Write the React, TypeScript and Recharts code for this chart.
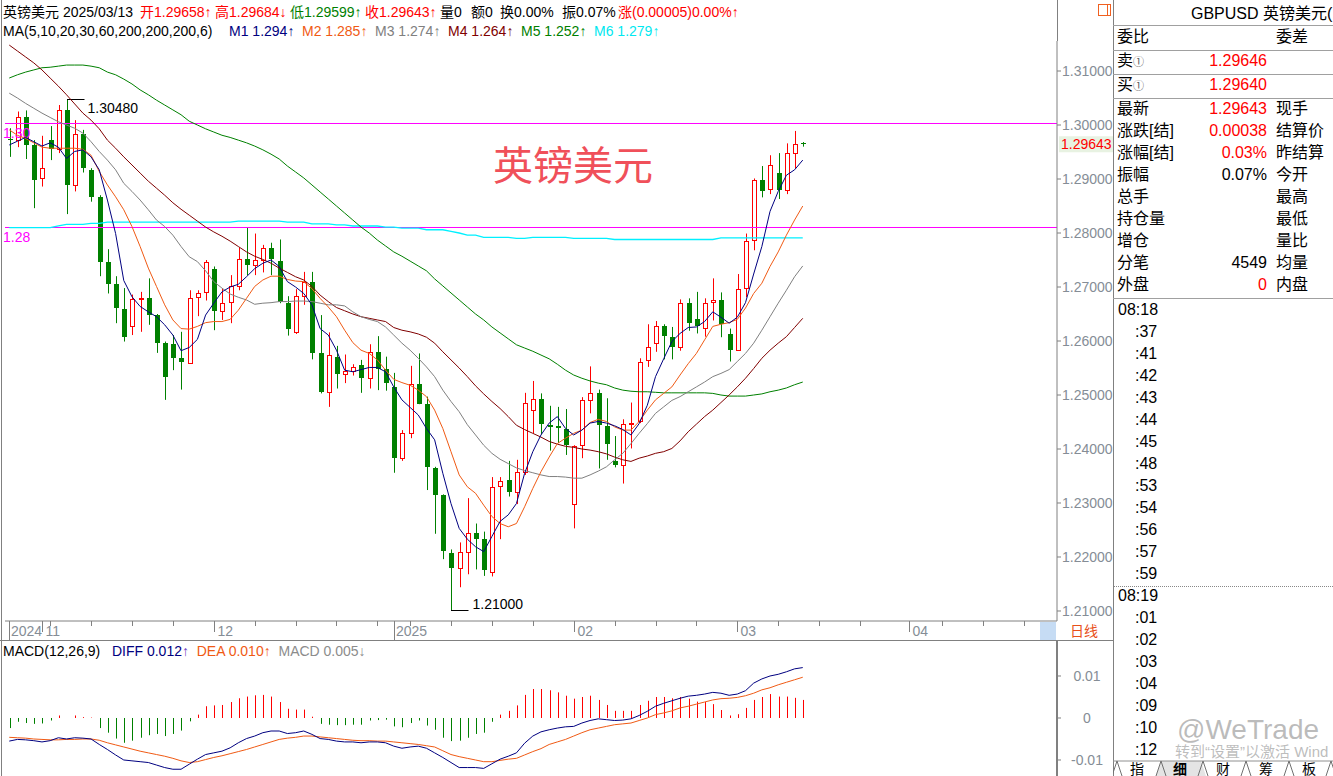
import React from 'react';
import { ComposedChart, Bar, Line, XAxis, YAxis, ReferenceLine } from 'recharts';

const FONT = "'Liberation Sans', Arial, 'Noto Sans CJK SC', sans-serif";
const CJK = "'Noto Sans CJK SC', 'Liberation Sans', sans-serif";
const RED = '#FF0000';
const GREEN = '#008000';
const NAVY = '#000080';
const ORANGE = '#F05A14';
const GRAY = '#808080';
const MAROON = '#800000';
const CYAN = '#00F0FF';
const MAGENTA = '#FF00FF';
const AXIS_TEXT = '#858d96';

// ---------- candle data (2024-10-28 .. 2025-03-13) ----------
const OPEN = [1.2974,1.2973,1.3014,1.2963,1.2901,1.2972,1.2955,1.3028,1.2888,1.2983,
1.2917,1.2867,1.2747,1.2706,1.2659,1.2628,1.2678,1.2679,1.2648,1.2597,
1.2594,1.2568,1.2560,1.2681,1.2690,1.2733,1.2656,1.2673,1.2702,1.2751,
1.2740,1.2750,1.2772,1.2748,1.2670,1.2617,1.2683,1.2709,1.2577,1.2506,
1.2570,1.2538,1.2544,1.2555,1.2531,1.2579,1.2548,1.2515,1.2383,1.2429,
1.2521,1.2483,1.2364,1.2314,1.2207,1.2180,1.2209,1.2245,1.2233,1.2172,
1.2332,1.2342,1.2321,1.2358,1.2473,1.2492,1.2445,1.2442,1.2437,1.2299,
1.2407,1.2491,1.2503,1.2443,1.2377,1.2370,1.2446,1.2451,1.2565,1.2596,
1.2628,1.2607,1.2589,1.2671,1.2640,1.2625,1.2673,1.2676,1.2613,1.2584,
1.2699,1.2787,1.2899,1.2881,1.2912,1.2879,1.2949,1.29658];
const HIGH = [1.2994,1.3025,1.3027,1.2972,1.2980,1.2998,1.3037,1.3048,1.3009,1.2991,
1.2920,1.2870,1.2770,1.2720,1.2698,1.2686,1.2691,1.2716,1.2650,1.2599,
1.2611,1.2617,1.2694,1.2694,1.2750,1.2738,1.2698,1.2722,1.2773,1.2810,
1.2799,1.2778,1.2782,1.2788,1.2683,1.2696,1.2728,1.2728,1.2648,1.2616,
1.2591,1.2575,1.2557,1.2565,1.2594,1.2609,1.2571,1.2541,1.2435,1.2554,
1.2577,1.2497,1.2367,1.2316,1.2214,1.2227,1.2309,1.2262,1.2247,1.2348,
1.2348,1.2378,1.2380,1.2504,1.2526,1.2503,1.2480,1.2478,1.2474,1.2407,
1.2496,1.2553,1.2510,1.2494,1.2424,1.2455,1.2486,1.2568,1.2631,1.2637,
1.2631,1.2626,1.2677,1.2679,1.2691,1.2679,1.2716,1.2690,1.2623,1.2724,
1.2799,1.2901,1.2924,1.2944,1.2948,1.2966,1.2989,1.29684];
const LOW = [1.2941,1.2959,1.2937,1.2846,1.2886,1.2935,1.2948,1.2835,1.2877,1.2912,
1.2858,1.2720,1.2688,1.2633,1.2599,1.2611,1.2617,1.2630,1.2578,1.2491,
1.2546,1.2510,1.2560,1.2646,1.2675,1.2620,1.2639,1.2633,1.2694,1.2722,
1.2722,1.2727,1.2722,1.2670,1.2610,1.2613,1.2667,1.2566,1.2503,1.2478,
1.2512,1.2522,1.2536,1.2504,1.2512,1.2509,1.2508,1.2356,1.2378,1.2420,
1.2483,1.2324,1.2243,1.2196,1.2100,1.2144,1.2168,1.2177,1.2165,1.2164,
1.2233,1.2312,1.2298,1.2352,1.2429,1.2427,1.2397,1.2411,1.2389,1.2253,
1.2383,1.2466,1.2364,1.2380,1.2366,1.2336,1.2401,1.2448,1.2552,1.2580,
1.2566,1.2566,1.2582,1.2619,1.2614,1.2608,1.2638,1.2607,1.2562,1.2584,
1.2681,1.2768,1.2866,1.2872,1.2863,1.2872,1.2919,1.29599];
const CLOSE = [1.2972,1.3015,1.2963,1.2899,1.2920,1.2955,1.3027,1.2889,1.2983,1.2921,
1.2867,1.2747,1.2706,1.2661,1.2608,1.2677,1.2679,1.2648,1.2597,1.2534,
1.2569,1.2562,1.2679,1.2688,1.2746,1.2656,1.2671,1.2702,1.2751,1.2741,
1.2750,1.2772,1.2751,1.2673,1.2622,1.2684,1.2710,1.2578,1.2506,1.2575,
1.2538,1.2544,1.2552,1.2531,1.2580,1.2549,1.2523,1.2383,1.2429,1.2520,
1.2484,1.2366,1.2314,1.2212,1.2180,1.2209,1.2245,1.2233,1.2175,1.2330,
1.2341,1.2321,1.2357,1.2486,1.2492,1.2446,1.2441,1.2438,1.2408,1.2406,
1.2490,1.2504,1.2444,1.2410,1.2370,1.2446,1.2448,1.2562,1.2588,1.2628,
1.2609,1.2589,1.2671,1.2633,1.2627,1.2671,1.2676,1.2631,1.2583,1.2697,
1.2785,1.2899,1.2878,1.2926,1.2880,1.2949,1.2965,1.29643];

// ---------- moving averages ----------
const MA5 = [1.2963,1.2970,1.2977,1.2969,1.2961,1.2967,1.2959,1.2938,1.2951,1.2954,
1.2941,1.2917,1.2861,1.2799,1.2712,1.2682,1.2664,1.2654,1.2645,1.2630,
1.2611,1.2582,1.2588,1.2603,1.2648,1.2670,1.2691,1.2700,1.2705,1.2719,
1.2734,1.2744,1.2750,1.2738,1.2710,1.2700,1.2688,1.2667,1.2623,1.2611,
1.2583,1.2546,1.2543,1.2547,1.2551,1.2551,1.2543,1.2515,1.2491,1.2477,
1.2463,1.2438,1.2417,1.2355,1.2299,1.2253,1.2233,1.2219,1.2210,1.2238,
1.2266,1.2278,1.2299,1.2355,1.2395,1.2426,1.2448,1.2460,1.2438,1.2426,
1.2435,1.2448,1.2451,1.2448,1.2443,1.2436,1.2426,1.2447,1.2481,1.2534,
1.2567,1.2599,1.2614,1.2625,1.2626,1.2636,1.2654,1.2644,1.2633,1.2644,
1.2671,1.2724,1.2775,1.2840,1.2877,1.2907,1.2917,1.2935];
const MA10 = [1.2991,1.2981,1.2975,1.2967,1.2959,1.2957,1.2957,1.2957,1.2957,1.2955,
1.2944,1.2914,1.2889,1.2867,1.2843,1.2812,1.2775,1.2735,1.2701,1.2667,
1.2639,1.2623,1.2622,1.2627,1.2634,1.2636,1.2636,1.2640,1.2657,1.2679,
1.2701,1.2713,1.2720,1.2720,1.2714,1.2711,1.2710,1.2697,1.2679,1.2663,
1.2645,1.2620,1.2597,1.2583,1.2577,1.2565,1.2546,1.2529,1.2523,1.2518,
1.2509,1.2497,1.2472,1.2438,1.2395,1.2352,1.2330,1.2318,1.2296,1.2275,
1.2262,1.2256,1.2262,1.2293,1.2327,1.2358,1.2385,1.2410,1.2420,1.2429,
1.2435,1.2449,1.2455,1.2451,1.2441,1.2435,1.2435,1.2451,1.2472,1.2491,
1.2503,1.2515,1.2537,1.2558,1.2577,1.2602,1.2627,1.2631,1.2634,1.2640,
1.2661,1.2688,1.2707,1.2738,1.2765,1.2796,1.2824,1.2850];
const MA20 = [1.3059,1.3050,1.3040,1.3031,1.3022,1.3014,1.3006,1.3000,1.2994,1.2985,
1.2969,1.2951,1.2935,1.2917,1.2892,1.2877,1.2861,1.2843,1.2824,1.2812,
1.2796,1.2775,1.2756,1.2747,1.2730,1.2710,1.2698,1.2687,1.2681,1.2676,
1.2668,1.2670,1.2671,1.2673,1.2673,1.2674,1.2674,1.2673,1.2670,1.2667,
1.2667,1.2665,1.2654,1.2645,1.2640,1.2636,1.2626,1.2611,1.2596,1.2583,
1.2568,1.2552,1.2534,1.2509,1.2488,1.2469,1.2445,1.2426,1.2407,1.2392,
1.2381,1.2373,1.2365,1.2360,1.2356,1.2352,1.2349,1.2349,1.2348,1.2346,
1.2346,1.2352,1.2359,1.2367,1.2380,1.2392,1.2410,1.2429,1.2447,1.2466,
1.2478,1.2490,1.2497,1.2506,1.2515,1.2524,1.2534,1.2540,1.2547,1.2562,
1.2577,1.2596,1.2620,1.2645,1.2670,1.2694,1.2719,1.2739];
const MA30 = [1.3148,1.3137,1.3126,1.3115,1.3102,1.3087,1.3072,1.3056,1.3039,1.3022,
1.3009,1.2993,1.2972,1.2957,1.2941,1.2926,1.2911,1.2896,1.2883,1.2870,
1.2856,1.2844,1.2833,1.2822,1.2811,1.2802,1.2794,1.2785,1.2775,1.2765,
1.2757,1.2751,1.2744,1.2735,1.2727,1.2719,1.2713,1.2701,1.2685,1.2673,
1.2662,1.2656,1.2650,1.2645,1.2642,1.2639,1.2636,1.2625,1.2620,1.2617,
1.2613,1.2607,1.2596,1.2580,1.2565,1.2550,1.2534,1.2517,1.2502,1.2488,
1.2475,1.2460,1.2444,1.2436,1.2429,1.2422,1.2414,1.2409,1.2405,1.2403,
1.2400,1.2398,1.2395,1.2391,1.2385,1.2380,1.2377,1.2383,1.2387,1.2392,
1.2395,1.2401,1.2415,1.2432,1.2446,1.2460,1.2472,1.2486,1.2500,1.2515,
1.2531,1.2549,1.2568,1.2583,1.2596,1.2608,1.2625,1.2642];
const MA60 = [1.3087,1.3093,1.3098,1.3102,1.3106,1.3107,1.3109,1.3111,1.3111,1.3111,
1.3109,1.3106,1.3098,1.3093,1.3085,1.3076,1.3065,1.3056,1.3046,1.3037,
1.3028,1.3019,1.3007,1.3000,1.2993,1.2987,1.2981,1.2977,1.2972,1.2967,
1.2961,1.2954,1.2946,1.2937,1.2924,1.2913,1.2902,1.2889,1.2876,1.2863,
1.2850,1.2837,1.2824,1.2811,1.2800,1.2787,1.2776,1.2765,1.2757,1.2748,
1.2739,1.2730,1.2715,1.2702,1.2689,1.2676,1.2663,1.2650,1.2639,1.2626,
1.2615,1.2604,1.2593,1.2587,1.2581,1.2574,1.2567,1.2557,1.2546,1.2537,
1.2531,1.2526,1.2522,1.2519,1.2513,1.2509,1.2507,1.2506,1.2506,1.2505,
1.2504,1.2504,1.2504,1.2504,1.2504,1.2504,1.2503,1.2500,1.2498,1.2498,
1.2498,1.2500,1.2502,1.2506,1.2509,1.2513,1.2519,1.2524];
const MA200 = [1.2810,1.2810,1.2810,1.2810,1.2810,1.2810,1.2813,1.2816,1.2816,1.2816,
1.2818,1.2818,1.2820,1.2820,1.2820,1.2820,1.2820,1.2820,1.2820,1.2820,
1.2820,1.2820,1.2820,1.2820,1.2820,1.2820,1.2820,1.2820,1.2822,1.2822,
1.2822,1.2822,1.2822,1.2822,1.2820,1.2820,1.2820,1.2817,1.2817,1.2817,
1.2815,1.2815,1.2813,1.2813,1.2813,1.2813,1.2811,1.2811,1.2809,1.2809,
1.2809,1.2806,1.2806,1.2806,1.2803,1.2800,1.2796,1.2796,1.2792,1.2792,
1.2792,1.2792,1.2790,1.2790,1.2792,1.2792,1.2792,1.2792,1.2792,1.2790,
1.2790,1.2790,1.2790,1.2790,1.2788,1.2788,1.2788,1.2788,1.2788,1.2788,
1.2788,1.2788,1.2788,1.2788,1.2788,1.2788,1.2788,1.2791,1.2791,1.2791,
1.2791,1.2791,1.2791,1.2791,1.2791,1.2791,1.2791,1.2791];

// ---------- MACD(12,26,9) ----------
const DIFF = [-0.0055,-0.0051,-0.0052,-0.0054,-0.0057,-0.0054,-0.0047,-0.0050,-0.0047,-0.0048,
-0.0050,-0.0063,-0.0075,-0.0088,-0.0100,-0.0102,-0.0104,-0.0106,-0.0112,-0.0118,
-0.0122,-0.0122,-0.0110,-0.0098,-0.0087,-0.0083,-0.0079,-0.0071,-0.0059,-0.0049,
-0.0043,-0.0035,-0.0031,-0.0031,-0.0037,-0.0035,-0.0031,-0.0039,-0.0049,-0.0051,
-0.0055,-0.0057,-0.0057,-0.0059,-0.0057,-0.0057,-0.0059,-0.0067,-0.0072,-0.0069,
-0.0067,-0.0072,-0.0083,-0.0094,-0.0106,-0.0118,-0.0118,-0.0118,-0.0120,-0.0109,
-0.0098,-0.0091,-0.0083,-0.0060,-0.0043,-0.0033,-0.0028,-0.0024,-0.0021,-0.0020,
-0.0012,-0.0006,-0.0002,-0.0004,-0.0006,-0.0005,-0.0002,0.0006,0.0016,0.0028,
0.0035,0.0041,0.0047,0.0052,0.0054,0.0057,0.0061,0.0059,0.0054,0.0057,
0.0065,0.0083,0.0093,0.0100,0.0104,0.0110,0.0117,0.0120];
const DEA = [-0.0046,-0.0047,-0.0048,-0.0050,-0.0051,-0.0052,-0.0052,-0.0051,-0.0051,-0.0050,
-0.0050,-0.0053,-0.0059,-0.0064,-0.0069,-0.0074,-0.0079,-0.0083,-0.0087,-0.0091,
-0.0096,-0.0102,-0.0106,-0.0104,-0.0099,-0.0094,-0.0090,-0.0085,-0.0080,-0.0075,
-0.0069,-0.0063,-0.0057,-0.0051,-0.0048,-0.0046,-0.0043,-0.0043,-0.0045,-0.0047,
-0.0049,-0.0051,-0.0053,-0.0054,-0.0054,-0.0055,-0.0055,-0.0057,-0.0059,-0.0061,
-0.0063,-0.0066,-0.0069,-0.0078,-0.0087,-0.0092,-0.0096,-0.0100,-0.0104,-0.0104,
-0.0101,-0.0098,-0.0096,-0.0088,-0.0080,-0.0073,-0.0063,-0.0057,-0.0051,-0.0043,
-0.0035,-0.0028,-0.0024,-0.0020,-0.0016,-0.0014,-0.0012,-0.0006,0.0000,0.0008,
0.0012,0.0017,0.0024,0.0028,0.0033,0.0038,0.0043,0.0046,0.0047,0.0049,
0.0053,0.0059,0.0067,0.0072,0.0079,0.0085,0.0091,0.0097];
const HIST = [-0.0024,-0.0009,-0.0012,-0.0014,-0.0013,-0.0006,0.0006,0.0000,0.0006,0.0002,
0.0001,-0.0024,-0.0035,-0.0049,-0.0059,-0.0054,-0.0047,-0.0041,-0.0038,-0.0043,
-0.0038,-0.0030,-0.0008,0.0008,0.0028,0.0030,0.0031,0.0038,0.0047,0.0051,
0.0054,0.0055,0.0051,0.0038,0.0022,0.0020,0.0020,0.0003,-0.0014,-0.0016,
-0.0017,-0.0017,-0.0016,-0.0016,-0.0006,-0.0005,-0.0004,-0.0020,-0.0022,-0.0012,
-0.0006,-0.0018,-0.0028,-0.0047,-0.0055,-0.0054,-0.0047,-0.0038,-0.0035,-0.0009,
0.0008,0.0017,0.0030,0.0055,0.0069,0.0069,0.0066,0.0061,0.0053,0.0046,
0.0050,0.0053,0.0043,0.0031,0.0017,0.0017,0.0017,0.0031,0.0041,0.0050,
0.0050,0.0047,0.0050,0.0046,0.0039,0.0038,0.0033,0.0019,0.0006,0.0009,
0.0024,0.0043,0.0050,0.0057,0.0051,0.0051,0.0048,0.0043];

// ---------- axes / labels ----------
const SLOTS = 129;
const PRICE_TICKS = [1.21, 1.22, 1.23, 1.24, 1.25, 1.26, 1.27, 1.28, 1.29, 1.30, 1.31];
const MACD_TICKS = [-0.01, 0, 0.01];
const MACD_TICK_LABELS: Record<string, string> = { '-0.01': '-0.01', '0': '0', '0.01': '0.01' };
const YEAR_LABELS: Record<number, string> = { 0: '2024', 47: '2025' };
const MONTH_LABELS: Record<number, string> = { 4: '11', 25: '12', 69: '02', 89: '03', 110: '04' };
const WEEK_TICKS = [5, 10, 15, 20, 30, 35, 40, 45, 49, 54, 59, 64, 74, 79, 84, 94, 99, 104, 114, 119, 124];
const X_TICKS = [...Object.keys(YEAR_LABELS).map(Number), ...Object.keys(MONTH_LABELS).map(Number), ...WEEK_TICKS].sort((a, b) => a - b);
const H_LINES = [{ v: 1.30028, label: '1.30' }, { v: 1.28102, label: '1.28' }];
const LAST_PRICE = 1.29643;

const HEADER_ITEMS = [
  { t: '英镑美元 2025/03/13', c: '#000', x: 3 },
  { t: '开1.29658↑', c: RED, x: 140 },
  { t: '高1.29684↓', c: RED, x: 215 },
  { t: '低1.29599↑', c: GREEN, x: 290 },
  { t: '收1.29643↑', c: RED, x: 365 },
  { t: '量0', c: '#000', x: 440 },
  { t: '额0', c: '#000', x: 471 },
  { t: '换0.00%', c: '#000', x: 500 },
  { t: '振0.07%', c: '#000', x: 562 },
  { t: '涨(0.00005)0.00%↑', c: RED, x: 618 },
];
const MA_LEGEND = [
  { n: 'M1', v: '1.294↑', c: NAVY, x: 229 },
  { n: 'M2', v: '1.285↑', c: ORANGE, x: 302 },
  { n: 'M3', v: '1.274↑', c: GRAY, x: 375 },
  { n: 'M4', v: '1.264↑', c: MAROON, x: 448 },
  { n: 'M5', v: '1.252↑', c: GREEN, x: 521 },
  { n: 'M6', v: '1.279↑', c: '#00E8F0', x: 594 },
];
const PANEL_ROWS = [
  { l: '最新', v: '1.29643', vc: RED, r: '现手' },
  { l: '涨跌[结]', v: '0.00038', vc: RED, r: '结算价' },
  { l: '涨幅[结]', v: '0.03%', vc: RED, r: '昨结算' },
  { l: '振幅', v: '0.07%', vc: '#000', r: '今开' },
  { l: '总手', v: '', vc: '#000', r: '最高' },
  { l: '持仓量', v: '', vc: '#000', r: '最低' },
  { l: '增仓', v: '', vc: '#000', r: '量比' },
  { l: '分笔', v: '4549', vc: '#000', r: '均量' },
  { l: '外盘', v: '0', vc: RED, r: '内盘' },
];
const TICKS_LIST_A = ['08:18', ':37', ':41', ':42', ':43', ':44', ':45', ':48', ':53', ':54', ':56', ':57', ':59'];
const TICKS_LIST_B = ['08:19', ':01', ':02', ':03', ':04', ':09', ':10', ':12'];
const TABS = ['指', '细', '财', '筹', '板'];

const rows: any[] = [];
for (let i = 0; i < SLOTS; i++) {
  if (i < OPEN.length) {
    rows.push({
      i, o: OPEN[i], h: HIGH[i], l: LOW[i], c: CLOSE[i],
      ma5: MA5[i], ma10: MA10[i], ma20: MA20[i], ma30: MA30[i], ma60: MA60[i], ma200: MA200[i],
      diff: DIFF[i], dea: DEA[i], hist: HIST[i],
    });
  } else {
    rows.push({ i });
  }
}
const HIGH_IDX = HIGH.indexOf(Math.max(...HIGH));
const LOW_IDX = LOW.indexOf(Math.min(...LOW));

const X_DOMAIN: [number, number] = [-0.52, 128.08];

function Candle(props: any) {
  const { x, y, width, height, payload } = props;
  if (!payload || payload.o == null) return null;
  const { o, h, l, c, i } = payload;
  const toY = (v: number) => (h === l ? y : y + ((h - v) / (h - l)) * height);
  const cx = Math.round(x + width / 2) + 0.5;
  const yH = toY(h);
  const yL = toY(l);
  const top = Math.round(Math.min(toY(o), toY(c)));
  const bot = Math.round(Math.max(toY(o), toY(c)));
  const up = c > o;
  const col = up ? RED : GREEN;
  const parts: any[] = [];
  if (up) {
    const bh = Math.max(1, bot - top);
    parts.push(<line key="w1" x1={cx} x2={cx} y1={yH} y2={top + 0.5} stroke={col} />);
    parts.push(<line key="w2" x1={cx} x2={cx} y1={top + 0.5 + bh} y2={yL} stroke={col} />);
    parts.push(<rect key="b" x={cx - 2} y={top + 0.5} width={4} height={bh} fill="#fff" stroke={col} />);
  } else {
    parts.push(<line key="w" x1={cx} x2={cx} y1={yH} y2={yL} stroke={col} />);
    parts.push(<rect key="b" x={cx - 2.5} y={top} width={5} height={Math.max(1, bot - top)} fill={col} />);
  }
  if (i === HIGH_IDX) {
    const yy = Math.round(yH) + 0.5;
    parts.push(<line key="hm" x1={cx - 0.5} x2={cx + 17} y1={yy} y2={yy} stroke="#000" />);
    parts.push(<text key="ht" x={cx + 20} y={yy + 13} fontSize={14} fill="#000" fontFamily={FONT}>{h.toFixed(5)}</text>);
  }
  if (i === LOW_IDX) {
    const yy = Math.round(yL) - 0.5;
    parts.push(<line key="lm" x1={cx - 0.5} x2={cx + 17} y1={yy} y2={yy} stroke="#000" />);
    parts.push(<text key="lt" x={cx + 21} y={yy - 2} fontSize={14} fill="#000" fontFamily={FONT}>{l.toFixed(5)}</text>);
  }
  return <g>{parts}</g>;
}

function HistBar(props: any) {
  const { x, y, width, height, payload } = props;
  if (!payload || payload.hist == null || !height) return null;
  const X = Math.round(x + width / 2) + 0.5;
  const col = payload.hist >= 0 ? RED : GREEN;
  return <line x1={X} x2={X} y1={y} y2={y + height} stroke={col} strokeWidth={1} />;
}

function XTick(props: any) {
  const { x, y, payload } = props;
  const v = payload.value;
  const X = Math.round(x) + 0.5;
  if (YEAR_LABELS[v] !== undefined) {
    return (
      <g>
        <line x1={X} x2={X} y1={y} y2={y + 19} stroke={GRAY} />
        <text x={X + 1.5} y={y + 15} fontSize={14} fill={AXIS_TEXT} fontFamily={FONT}>{YEAR_LABELS[v]}</text>
      </g>
    );
  }
  if (MONTH_LABELS[v] !== undefined) {
    return (
      <g>
        <line x1={X} x2={X} y1={y} y2={y + 11} stroke={GRAY} />
        <text x={X + 3} y={y + 15} fontSize={14} fill={AXIS_TEXT} fontFamily={FONT}>{MONTH_LABELS[v]}</text>
      </g>
    );
  }
  return <line x1={X} x2={X} y1={y} y2={y + 5} stroke={GRAY} />;
}

function MacdTick(props: any) {
  const { x, y, payload } = props;
  const key = String(payload.value);
  return (
    <text x={x + 26} y={y + 5} fontSize={14} fill={AXIS_TEXT} textAnchor="middle" fontFamily={FONT}>
      {MACD_TICK_LABELS[key] ?? key}
    </text>
  );
}

const magLabel = (text: string) => (p: any) => {
  const vb = p.viewBox || {};
  return (
    <text x={3} y={(vb.y ?? 0) + 15} fontSize={14} fill={MAGENTA} fontFamily={FONT}>{text}</text>
  );
};

const lastPriceLabel = (p: any) => {
  const vb = p.viewBox || {};
  const yy = vb.y ?? 0;
  const xx = (vb.x ?? 0) + (vb.width ?? 0);
  return (
    <g>
      <rect x={xx + 2} y={yy - 8} width={54} height={16} fill="#E8F2E2" />
      <text x={xx + 4} y={yy + 5} fontSize={14} fill={RED} fontFamily={FONT}>{LAST_PRICE.toFixed(5)}</text>
    </g>
  );
};

function Txt(props: any) {
  const { x, y, children, color = '#000', size = 16, right, family = FONT, weight = 'normal' } = props;
  const style: any = {
    position: 'absolute', top: y - 10, lineHeight: '20px', fontSize: size, color,
    whiteSpace: 'pre', fontFamily: family, fontWeight: weight,
  };
  if (right !== undefined) style.right = 1333 - right; else style.left = x;
  return <div style={style}>{children}</div>;
}

function Rule(props: any) {
  const { x, y, w, h, color = '#a0a0a0', dotted } = props;
  return (
    <div style={{
      position: 'absolute', left: x, top: y, width: w, height: h,
      background: dotted ? undefined : color,
      borderTop: dotted ? `1px dotted ${color}` : undefined,
    }} />
  );
}

export default function App() {
  return (
    <div style={{ position: 'absolute', left: 0, top: 0, width: 1333, height: 776, overflow: 'hidden', background: '#fff', fontFamily: FONT }}>
      {/* main price chart */}
      <div style={{ position: 'absolute', left: 0, top: 0 }}>
        <ComposedChart width={1113} height={640} data={rows} margin={{ top: 41, right: 0, bottom: 0, left: 5 }}>
          <XAxis
            dataKey="i" type="number" domain={X_DOMAIN} allowDataOverflow ticks={X_TICKS} interval={0}
            height={19} tickLine={false} tickSize={0} tickMargin={0} axisLine={{ stroke: GRAY }} tick={<XTick />}
          />
          <YAxis
            orientation="right" width={56} domain={[1.208148, 1.315556]} allowDataOverflow ticks={PRICE_TICKS} interval={0}
            tickFormatter={(v: number) => v.toFixed(5)} tickSize={4} tickMargin={1}
            tick={{ fill: AXIS_TEXT, fontSize: 14, fontFamily: FONT }} axisLine={{ stroke: GRAY }} tickLine={{ stroke: GRAY }}
          />
          {H_LINES.map((hl) => (
            <ReferenceLine key={hl.label} y={hl.v} stroke={MAGENTA} strokeWidth={1} label={magLabel(hl.label)} />
          ))}
          <ReferenceLine y={LAST_PRICE} stroke="transparent" label={lastPriceLabel} />
          <Bar dataKey={(d: any) => (d.o == null ? null : [d.l, d.h])} barSize={5} shape={<Candle />} isAnimationActive={false} />
          <Line dataKey="ma200" stroke={CYAN} strokeWidth={1.3} dot={false} activeDot={false} isAnimationActive={false} />
          <Line dataKey="ma60" stroke={GREEN} strokeWidth={1} dot={false} activeDot={false} isAnimationActive={false} />
          <Line dataKey="ma30" stroke={MAROON} strokeWidth={1} dot={false} activeDot={false} isAnimationActive={false} />
          <Line dataKey="ma20" stroke={GRAY} strokeWidth={1} dot={false} activeDot={false} isAnimationActive={false} />
          <Line dataKey="ma10" stroke={ORANGE} strokeWidth={1} dot={false} activeDot={false} isAnimationActive={false} />
          <Line dataKey="ma5" stroke={NAVY} strokeWidth={1} dot={false} activeDot={false} isAnimationActive={false} />
        </ComposedChart>
      </div>

      {/* MACD panel */}
      <div style={{ position: 'absolute', left: 0, top: 641 }}>
        <ComposedChart width={1113} height={135} data={rows} margin={{ top: 0, right: 0, bottom: 0, left: 5 }}>
          <XAxis dataKey="i" type="number" domain={X_DOMAIN} allowDataOverflow hide />
          <YAxis
            orientation="right" width={56} domain={[-0.01381, 0.01833]} allowDataOverflow ticks={MACD_TICKS} interval={0}
            tickSize={4} tickMargin={0} tick={<MacdTick />} axisLine={{ stroke: GRAY, strokeWidth: 2 }} tickLine={{ stroke: GRAY }}
          />
          <Bar dataKey="hist" barSize={1} shape={<HistBar />} isAnimationActive={false} />
          <Line dataKey="dea" stroke={ORANGE} strokeWidth={1} dot={false} activeDot={false} isAnimationActive={false} />
          <Line dataKey="diff" stroke={NAVY} strokeWidth={1} dot={false} activeDot={false} isAnimationActive={false} />
        </ComposedChart>
      </div>

      {/* frame lines */}
      <Rule x={1} y={0} w={1} h={776} color={GRAY} />
      <Rule x={1057} y={0} w={1} h={41} color={GRAY} />
      <Rule x={0} y={640} w={1113} h={1} color={GRAY} />
      <Rule x={1113} y={0} w={1} h={776} color={GRAY} />
      <div style={{ position: 'absolute', left: 1040, top: 622, width: 16, height: 18, background: '#C6DCF4' }} />
      <Txt x={1070} y={631} size={14} color="#E8501A">日线</Txt>
      <div style={{ position: 'absolute', left: 1098, top: 4, width: 13, height: 12, border: '1px solid #F06020', boxSizing: 'border-box' }} />
      <div style={{ position: 'absolute', left: 1107, top: 4, width: 1, height: 12, background: '#F06020' }} />

      {/* header lines */}
      {HEADER_ITEMS.map((h, k) => (
        <Txt key={k} x={h.x} y={12} size={14} color={h.c}>{h.t}</Txt>
      ))}
      <Txt x={3} y={31} size={14}>MA(5,10,20,30,60,200,200,200,6)</Txt>
      {MA_LEGEND.map((m) => (
        <Txt key={m.n} x={m.x} y={31} size={14} color={m.c}>{m.n} {m.v}</Txt>
      ))}
      <div style={{ position: 'absolute', left: 493, top: 140, fontSize: 40, lineHeight: '46px', color: '#F0505A', fontFamily: CJK, whiteSpace: 'pre' }}>英镑美元</div>

      {/* MACD header */}
      <div style={{ position: 'absolute', left: 3, top: 642, lineHeight: '18px', fontSize: 14, whiteSpace: 'pre' }}>
        <span style={{ color: '#000' }}>MACD(12,26,9)   </span>
        <span style={{ color: NAVY }}>DIFF 0.012</span><span style={{ color: '#7040C0' }}>↑</span>
        <span>  </span>
        <span style={{ color: ORANGE }}>DEA 0.010↑</span>
        <span>  </span>
        <span style={{ color: '#8c8c8c' }}>MACD 0.005↓</span>
      </div>

      {/* right info panel */}
      <Txt x={1191} y={14}>GBPUSD 英镑美元(</Txt>
      <Rule x={1113} y={25} w={220} h={1} />
      <Txt x={1117} y={37}>委比</Txt>
      <Txt x={1276} y={37}>委差</Txt>
      <Rule x={1113} y={50} w={220} h={1} />
      <Txt x={1117} y={61}>卖<span style={{ fontSize: 11, color: '#555' }}>①</span></Txt>
      <Txt right={1267} y={61} color={RED}>1.29646</Txt>
      <Rule x={1113} y={74} w={220} h={1} />
      <Txt x={1117} y={85}>买<span style={{ fontSize: 11, color: '#555' }}>①</span></Txt>
      <Txt right={1267} y={85} color={RED}>1.29640</Txt>
      <Rule x={1113} y={98} w={220} h={1} />
      {PANEL_ROWS.map((r, k) => (
        <React.Fragment key={r.l}>
          <Txt x={1117} y={109 + k * 22}>{r.l}</Txt>
          {r.v ? <Txt right={1267} y={109 + k * 22} color={r.vc}>{r.v}</Txt> : null}
          <Txt x={1276} y={109 + k * 22}>{r.r}</Txt>
        </React.Fragment>
      ))}
      <Rule x={1113} y={298} w={220} h={1} />
      {TICKS_LIST_A.map((t, k) => (
        <Txt key={'a' + k} x={t.startsWith(':') ? 1135 : 1118} y={310 + k * 22}>{t}</Txt>
      ))}
      <Rule x={1114} y={586} w={219} h={0} dotted color="#888" />
      {TICKS_LIST_B.map((t, k) => (
        <Txt key={'b' + k} x={t.startsWith(':') ? 1135 : 1118} y={596 + k * 22}>{t}</Txt>
      ))}
      <Txt x={1177} y={730} size={28} color="rgba(120,120,120,0.5)">@WeTrade</Txt>
      <Txt x={1175} y={752} size={15} color="rgba(160,160,160,0.7)">转到“设置”以激活 Wind</Txt>

      {/* bottom tabs */}
      <svg style={{ position: 'absolute', left: 1113, top: 760 }} width={220} height={16}>
        <polygon points="48,1 88,1 93,16 43,16" fill="#E4E4E4" />
        <line x1={0} y1={1} x2={220} y2={1} stroke="#909090" />
        {[4, 48, 90, 133, 176, 218].map((b, k) => (
          <g key={k}>
            <line x1={b} y1={1} x2={b + 5} y2={16} stroke="#707070" />
            <line x1={b} y1={1} x2={b - 5} y2={16} stroke="#707070" />
          </g>
        ))}
      </svg>
      {TABS.map((t, k) => (
        <div key={t} style={{ position: 'absolute', left: 1130 + k * 43, top: 762, lineHeight: '14px', fontSize: 14, fontWeight: k === 1 ? 'bold' : 'normal' }}>{t}</div>
      ))}
    </div>
  );
}
